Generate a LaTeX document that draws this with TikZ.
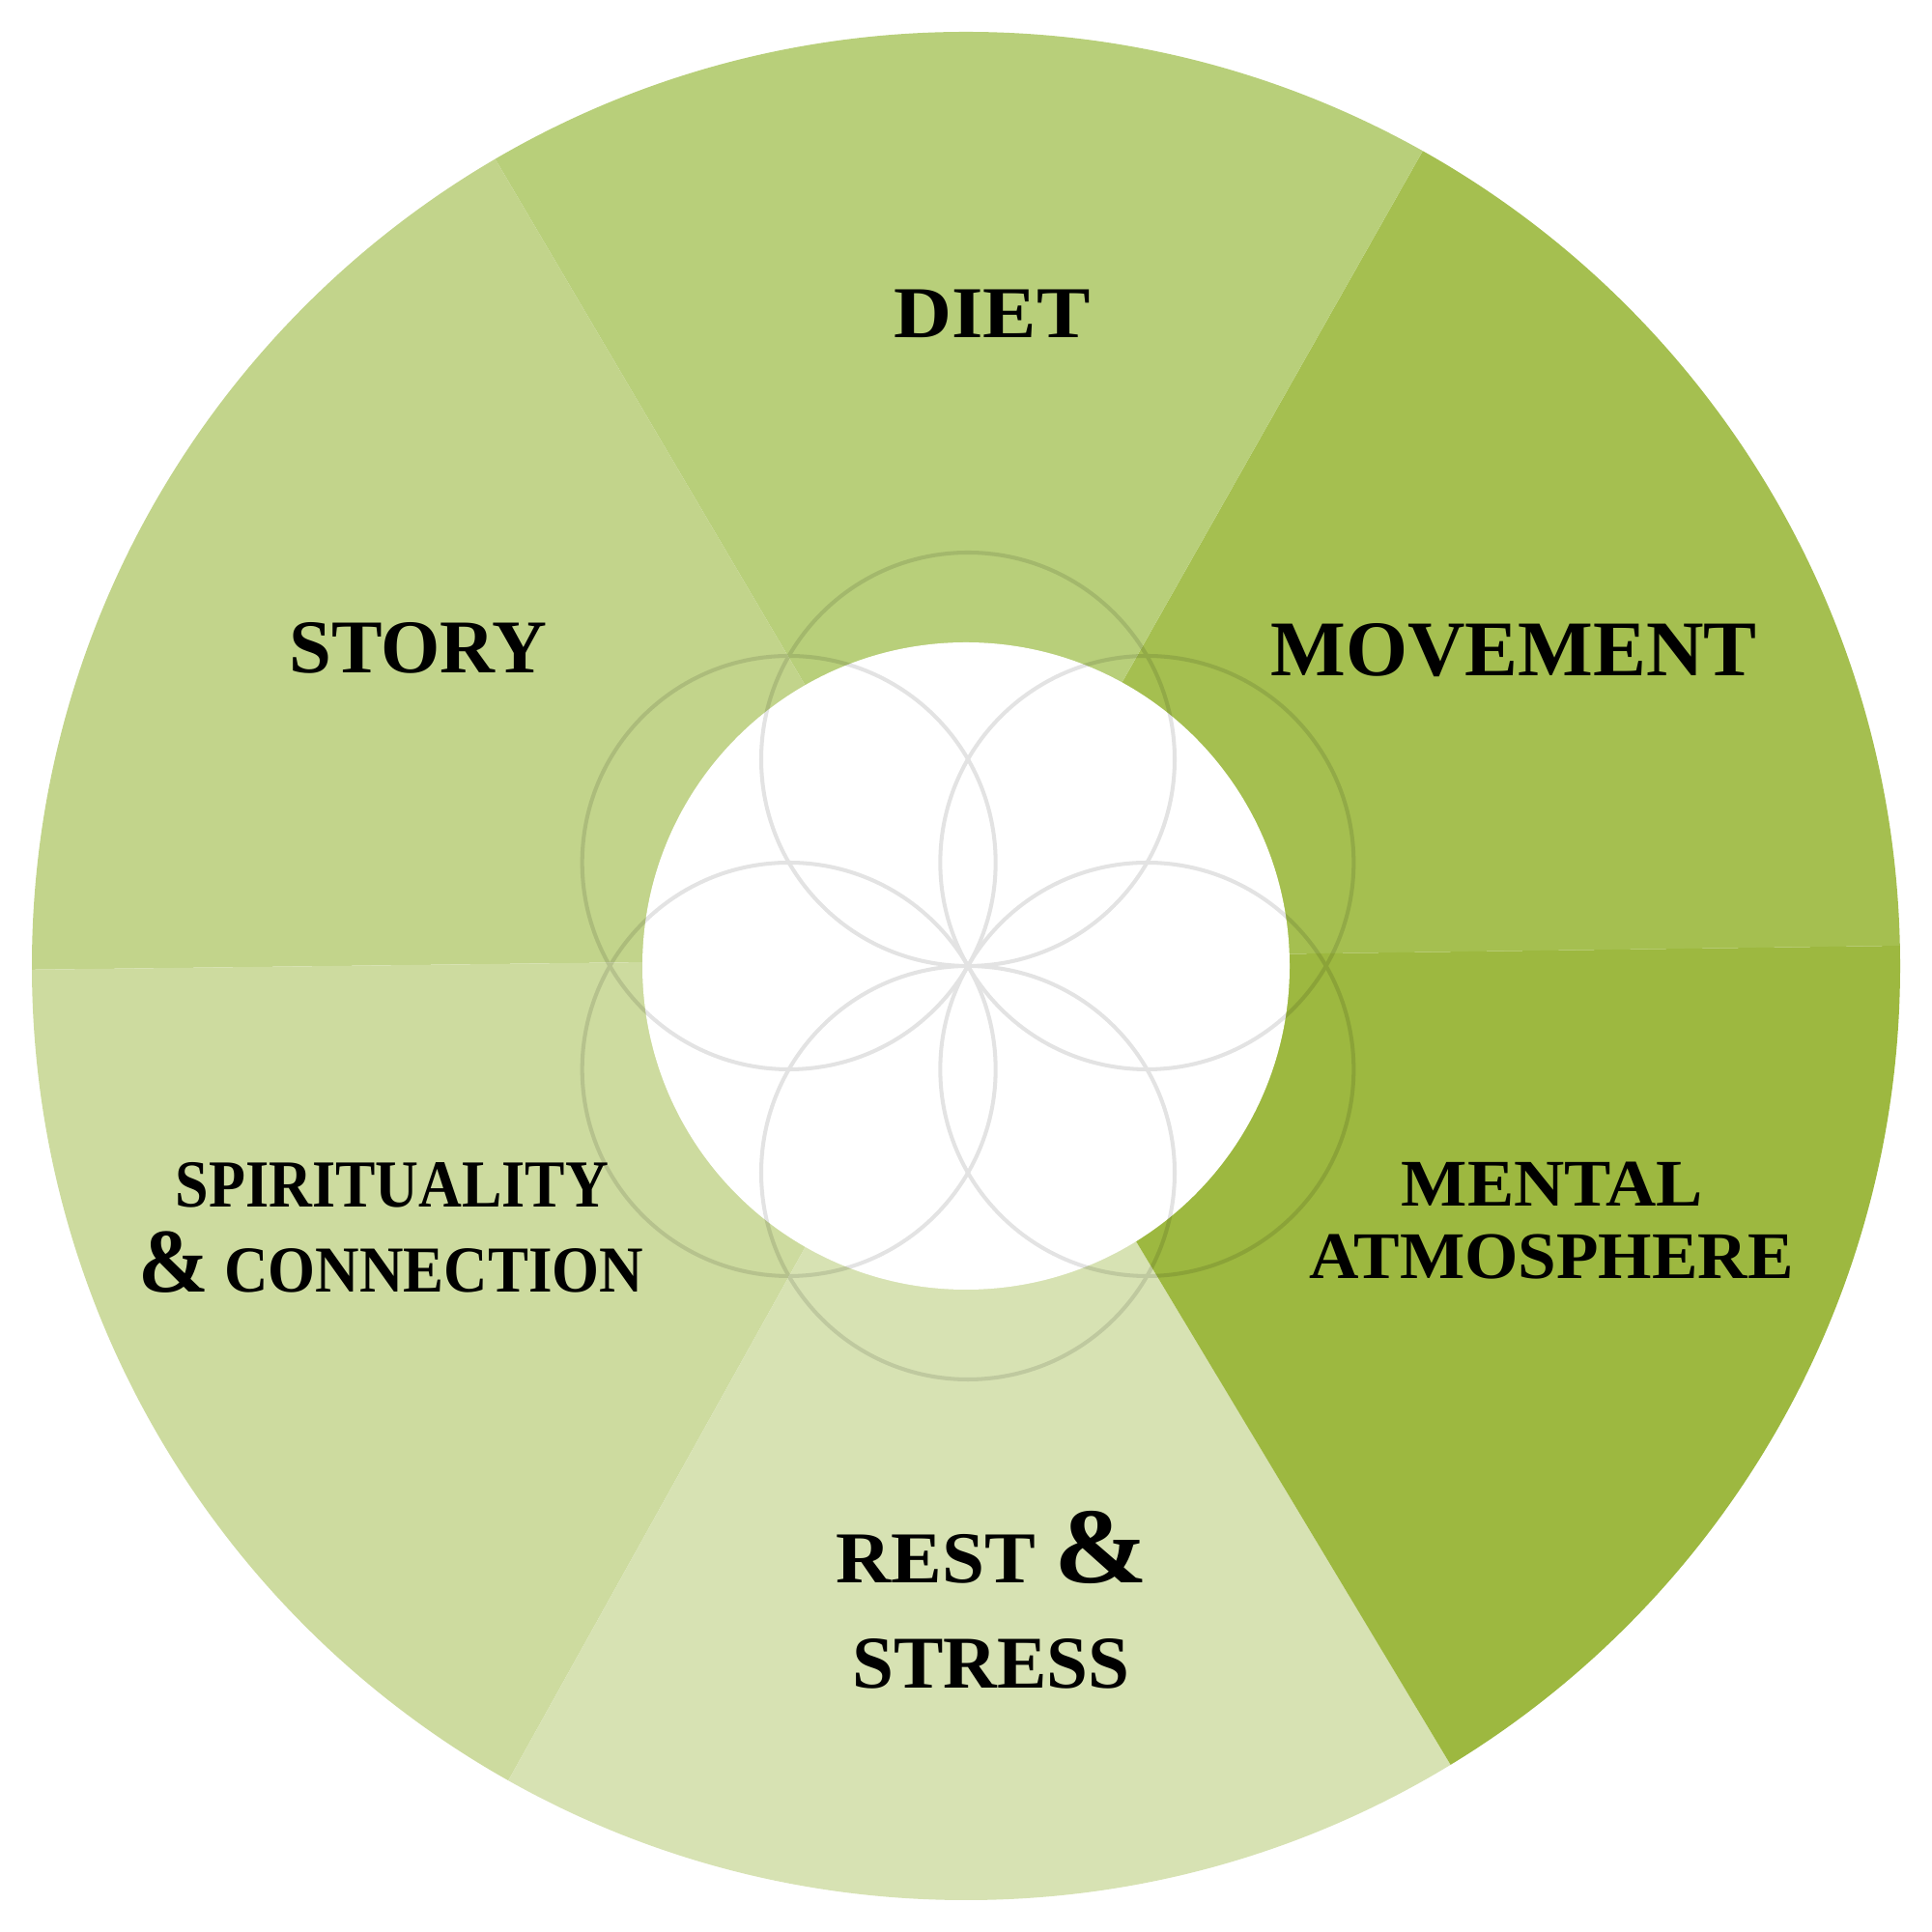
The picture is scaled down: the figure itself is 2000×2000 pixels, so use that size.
\documentclass[tikz,border=0pt]{standalone}
\usepackage{fontspec}
\setmainfont{Liberation Serif}
\usepackage{graphicx}
\newcommand\lblbox[3]{\resizebox{#1cm}{\height}{\fontsize{#2}{#2}\selectfont #3}}
\begin{document}
\begin{tikzpicture}[x=0.01cm,y=0.01cm]
\useasboundingbox (0,0) rectangle (2000,2000);
\definecolor{cMove}{HTML}{A5BF50}
\definecolor{cDiet}{HTML}{B8CF7A}
\definecolor{cStory}{HTML}{C2D48B}
\definecolor{cSpirit}{HTML}{CDDB9F}
\definecolor{cRest}{HTML}{D7E2B3}
\definecolor{cMental}{HTML}{9DB840}
\tikzset{
  lbl/.style={anchor=base,inner sep=0pt,font=\bfseries,text=black},
  petal/.style={draw=black,line width=1.15pt},
}
% sectors
\begin{scope}
  \clip (1000,1000) circle (967);
  \begin{scope}[shift={(1000,1008)}]
    \fill[cMove]   (0,0) -- (0.77:1500)  -- (60.5:1500)  -- cycle;
    \fill[cDiet]   (0,0) -- (60.5:1500)  -- (120.5:1500) -- cycle;
    \fill[cStory]  (0,0) -- (120.5:1500) -- (180.7:1500) -- cycle;
    \fill[cSpirit] (0,0) -- (180.7:1500) -- (240.9:1500) -- cycle;
    \fill[cRest]   (0,0) -- (240.9:1500) -- (301:1500)   -- cycle;
    \fill[cMental] (0,0) -- (301:1500)   -- (360.77:1500) -- cycle;
  \end{scope}
\end{scope}
% white centre
\fill[white] (1000,1000) circle (335);
% seed pattern
\coordinate (fc) at (1002,1000);
\begin{scope}[transparency group, opacity=0.11]
\foreach \a in {30,90,150,210,270,330}{
  \draw[petal] ([shift={(\a:214)}]fc) circle (214);
}
\end{scope}
% labels
\node[lbl] (diet) at (1027,1650) {\lblbox{2.03}{21.5}{DIET}};
\node[lbl] (story) at (433,1303) {\lblbox{2.67}{22.35}{STORY}};
\node[lbl] (movement) at (1567,1300) {\lblbox{5.03}{23.2}{MOVEMENT}};
\node[lbl] (mental) at (1607,751) {\lblbox{3.12}{19.6}{MENTAL}};
\node[lbl] (atmos) at (1606,676) {\lblbox{5.01}{19.6}{ATMOSPHERE}};
\node[lbl] (spirit) at (406,750) {\lblbox{4.48}{19.8}{SPIRITUALITY}};
\node[lbl] (connect) at (405,662) {\lblbox{5.22}{19.3}{{\fontsize{26.8}{26.8}\selectfont\&} CONNECTION}};
\node[lbl] (rest) at (1027,361) {\lblbox{3.23}{21.5}{REST {\fontsize{31.7}{31.7}\selectfont\&}}};
\node[lbl] (stress) at (1026,252) {\lblbox{2.87}{21.9}{STRESS}};
\end{tikzpicture}
\end{document}
